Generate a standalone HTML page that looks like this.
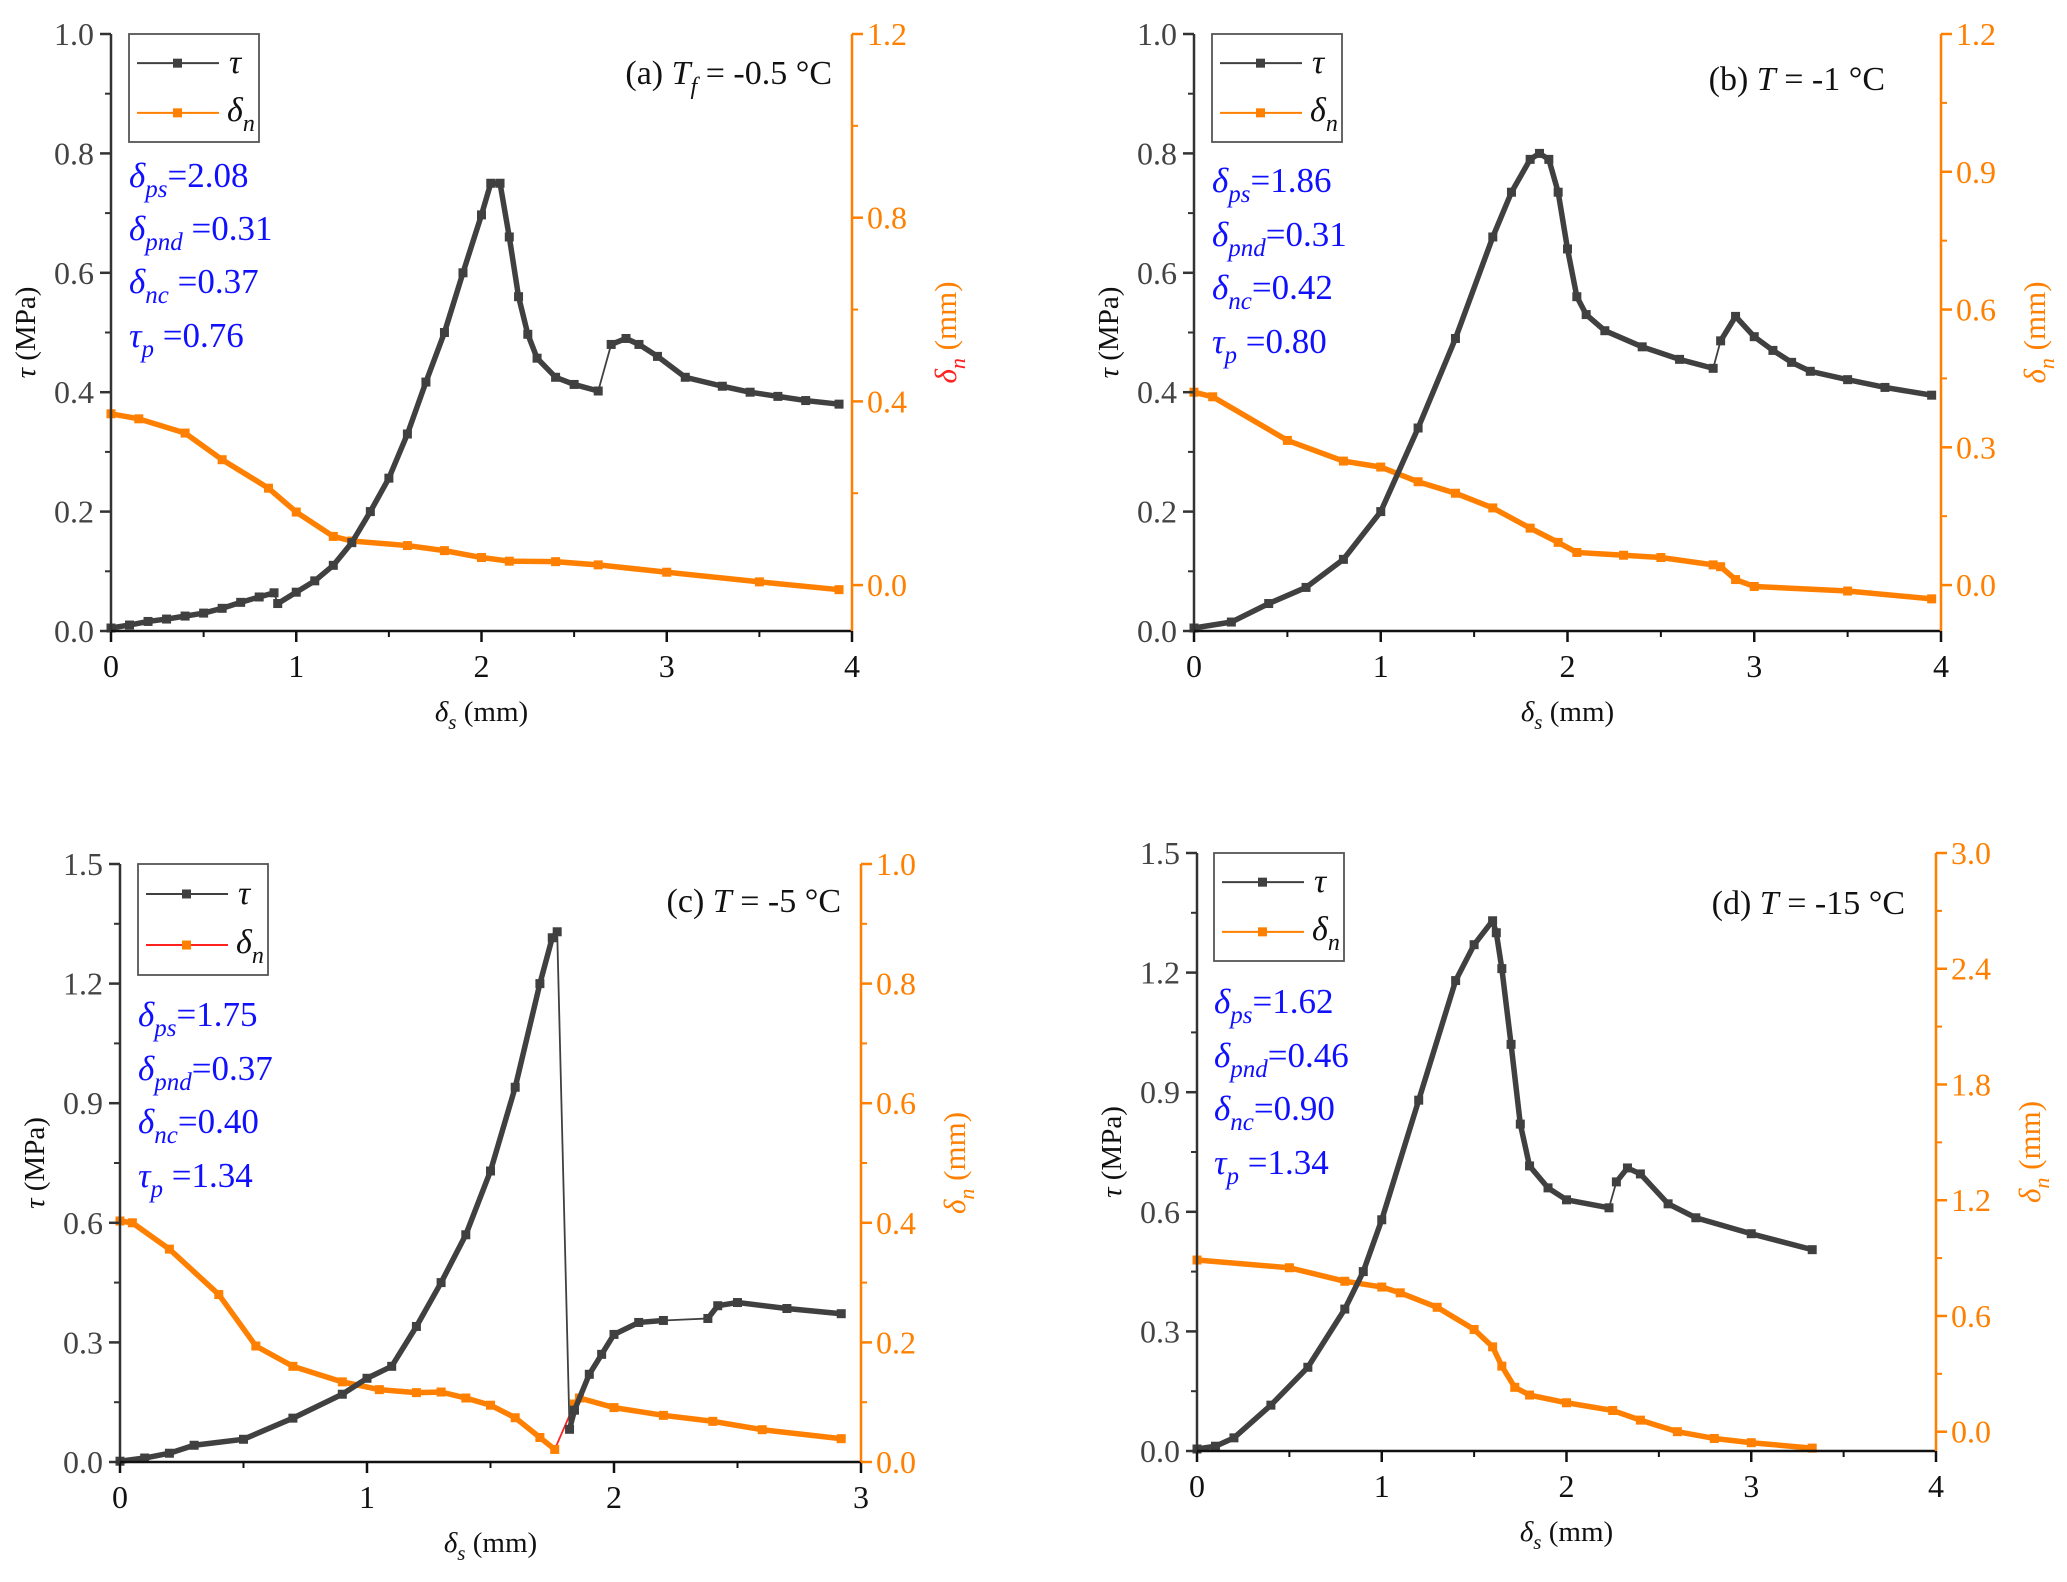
<!DOCTYPE html>
<html><head><meta charset="utf-8"><style>
html,body{margin:0;padding:0;background:#fff;}
svg{display:block;font-family:"Liberation Serif","DejaVu Serif",serif;}
</style></head><body>
<svg id="fig" width="2067" height="1582" viewBox="0 0 2067 1582" xmlns="http://www.w3.org/2000/svg"></svg>
<script>
// ---- Panel (a) data ----
const aTauX=[0,0.1,0.2,0.3,0.4,0.5,0.6,0.7,0.8,0.88,0.9,1.0,1.1,1.2,1.3,1.4,1.5,1.6,1.7,1.8,1.9,2.0,2.05,2.1,2.15,2.2,2.25,2.3,2.4,2.5,2.63,2.7,2.78,2.85,2.95,3.1,3.3,3.45,3.6,3.75,3.93];
const aTauY=[0.005,0.01,0.016,0.02,0.025,0.03,0.038,0.048,0.057,0.064,0.046,0.065,0.084,0.11,0.148,0.2,0.256,0.33,0.417,0.5,0.6,0.697,0.75,0.75,0.66,0.56,0.497,0.457,0.425,0.413,0.402,0.48,0.49,0.48,0.46,0.425,0.41,0.4,0.393,0.386,0.38];
const aTauThin=[9,30];
const aDnX=[0,0.15,0.4,0.6,0.85,1.0,1.2,1.3,1.6,1.8,2.0,2.15,2.4,2.63,3.0,3.5,3.93];
const aDnY=[0.373,0.362,0.331,0.273,0.211,0.159,0.106,0.096,0.086,0.075,0.06,0.052,0.051,0.044,0.028,0.007,-0.01];
const aDnThin=[];
// ---- Panel (b) data ----
const bTauX=[0,0.2,0.4,0.6,0.8,1.0,1.2,1.4,1.6,1.7,1.8,1.85,1.9,1.95,2.0,2.05,2.1,2.2,2.4,2.6,2.78,2.82,2.9,3.0,3.1,3.2,3.3,3.5,3.7,3.95];
const bTauY=[0.005,0.015,0.046,0.073,0.12,0.2,0.34,0.49,0.66,0.735,0.79,0.8,0.79,0.735,0.64,0.56,0.53,0.503,0.476,0.455,0.44,0.486,0.527,0.493,0.47,0.45,0.435,0.421,0.408,0.395];
const bTauThin=[20];
const bDnX=[0,0.1,0.5,0.8,1.0,1.2,1.4,1.6,1.8,1.95,2.05,2.3,2.5,2.78,2.82,2.9,3.0,3.5,3.95];
const bDnY=[0.42,0.41,0.315,0.27,0.257,0.225,0.2,0.168,0.124,0.093,0.071,0.065,0.06,0.044,0.04,0.012,-0.003,-0.013,-0.03];
const bDnThin=[];
// ---- Panel (c) data ----
const cTauX=[0,0.1,0.2,0.3,0.5,0.7,0.9,1.0,1.1,1.2,1.3,1.4,1.5,1.6,1.7,1.75,1.77,1.82,1.84,1.9,1.95,2.0,2.1,2.2,2.38,2.42,2.5,2.7,2.92];
const cTauY=[0.002,0.01,0.022,0.042,0.057,0.11,0.17,0.21,0.24,0.34,0.45,0.57,0.73,0.94,1.2,1.315,1.33,0.082,0.13,0.22,0.27,0.32,0.35,0.355,0.36,0.392,0.4,0.385,0.372];
const cTauThin=[16,23];
const cDnX=[0,0.05,0.2,0.4,0.55,0.7,0.9,1.05,1.2,1.3,1.4,1.5,1.6,1.7,1.76,1.84,1.86,2.0,2.2,2.4,2.6,2.92];
const cDnY=[0.403,0.4,0.356,0.28,0.194,0.16,0.134,0.121,0.116,0.117,0.107,0.095,0.074,0.041,0.021,0.097,0.107,0.091,0.078,0.068,0.054,0.039];
const cDnThin=[14];
// ---- Panel (d) data ----
const dTauX=[0,0.1,0.2,0.4,0.6,0.8,0.9,1.0,1.2,1.4,1.5,1.6,1.62,1.65,1.7,1.75,1.8,1.9,2.0,2.23,2.27,2.33,2.4,2.55,2.7,3.0,3.33];
const dTauY=[0.005,0.012,0.033,0.115,0.21,0.356,0.45,0.58,0.88,1.18,1.27,1.33,1.3,1.21,1.02,0.82,0.715,0.66,0.63,0.61,0.675,0.71,0.695,0.62,0.585,0.545,0.505];
const dTauThin=[19];
const dDnX=[0,0.5,0.8,1.0,1.1,1.3,1.5,1.6,1.65,1.72,1.8,2.0,2.25,2.4,2.6,2.8,3.0,3.33];
const dDnY=[0.89,0.85,0.78,0.75,0.72,0.645,0.53,0.44,0.34,0.23,0.19,0.15,0.11,0.06,0.0,-0.035,-0.057,-0.085];
const dDnThin=[];
// ---- Axis tick labels ----
const aLeftTicks=["0.0","0.2","0.4","0.6","0.8","1.0"];
const aRightTicks=["0.0","0.4","0.8","1.2"];
const bRightTicks=["0.0","0.3","0.6","0.9","1.2"];
const cLeftTicks=["0.0","0.3","0.6","0.9","1.2","1.5"];
const cRightTicks=["0.0","0.2","0.4","0.6","0.8","1.0"];
const dRightTicks=["0.0","0.6","1.2","1.8","2.4","3.0"];
const xTicks4=["0","1","2","3","4"];
const xTicks3=["0","1","2","3"];

const NS="http://www.w3.org/2000/svg";
const svg=document.getElementById('fig');
function mk(tag,attrs,parent){const e=document.createElementNS(NS,tag);for(const k in attrs)e.setAttribute(k,attrs[k]);(parent||svg).appendChild(e);return e;}
const DARK="#404040", ORANGE="#ff8000", BLUE="#1010ff";

function addRich(parent,x,y,size,parts,fill,anchor){
  const t=mk('text',{x:x,y:y,'font-size':size,fill:fill,'text-anchor':anchor||'start'},parent);
  parts.forEach(p=>{
    const s=mk('tspan',{},t);
    if(p.i) s.setAttribute('font-style','italic');
    if(p.sub){s.setAttribute('font-size',Math.round(size*0.72));s.setAttribute('dy',Math.round(size*0.28));}
    if(p.up){s.setAttribute('dy',-Math.round(size*0.28));}
    if(p.fill) s.setAttribute('fill',p.fill);
    s.textContent=p.t;
  });
  return t;
}

function panel(c){
  const g=mk('g',{});
  
  
  const xs=v=>c.L+(v/c.xMax)*(c.R-c.L);
  const yl=v=>c.B-((v-c.yMin)/(c.yMax-c.yMin))*(c.B-c.T);
  const yr=v=>c.B-((v-c.rMin)/(c.rMax-c.rMin))*(c.B-c.T);
  function series(X,Y,thin,ys,color,lineColor,name){
    const sg=mk('g',{},g);
    
    
    for(let i=0;i<X.length-1;i++){
      const isThin=thin.indexOf(i)>=0;
      const seg=mk('line',{x1:xs(X[i]),y1:ys(Y[i]),x2:xs(X[i+1]),y2:ys(Y[i+1]),stroke:isThin?lineColor:color,'stroke-width':isThin?1.8:5.5,'stroke-linecap':'square'},sg);
      
      
    }
    for(let i=0;i<X.length;i++){
      const m=mk('rect',{x:xs(X[i])-4.5,y:ys(Y[i])-4.5,width:9,height:9,fill:color},sg);
      
      
    }
  }
  series(c.dnX,c.dnY,c.dnThin,yr,ORANGE,c.dnLine,'dn-series-'+c.id);
  series(c.tX,c.tY,c.tThin,yl,DARK,DARK,'tau-series-'+c.id);
  const ax=mk('g',{},g);
  
  
  mk('line',{x1:c.L,y1:c.T,x2:c.L,y2:c.B+1,stroke:'#333','stroke-width':2.5},ax);
  mk('line',{x1:c.L,y1:c.B,x2:c.R,y2:c.B,stroke:'#111','stroke-width':2.5},ax);
  mk('line',{x1:c.R,y1:c.T,x2:c.R,y2:c.B,stroke:ORANGE,'stroke-width':2.5},ax);
  c.xLabels.forEach((lab,i)=>{
    const x=xs(i);
    mk('line',{x1:x,y1:c.B,x2:x,y2:c.B+11,stroke:'#111','stroke-width':2.5},ax);
    if(i<c.xLabels.length-1){const xm=xs(i+0.5);mk('line',{x1:xm,y1:c.B,x2:xm,y2:c.B+6,stroke:'#111','stroke-width':2},ax);}
    const t=mk('text',{x:x,y:c.B+46,'font-size':32,'text-anchor':'middle',fill:'#111'},ax);
    
    
    t.textContent=lab;
  });
  c.leftLabels.forEach((lab,i)=>{
    const v=parseFloat(lab), y=yl(v);
    mk('line',{x1:c.L-11,y1:y,x2:c.L,y2:y,stroke:'#333','stroke-width':2.5},ax);
    if(i<c.leftLabels.length-1){const ym=yl(v+c.yStep/2);mk('line',{x1:c.L-6,y1:ym,x2:c.L,y2:ym,stroke:'#333','stroke-width':2},ax);}
    const t=mk('text',{x:c.L-17,y:y+11,'font-size':32,'text-anchor':'end',fill:'#444'},ax);
    
    
    t.textContent=lab;
  });
  c.rightLabels.forEach((lab,i)=>{
    const v=parseFloat(lab), y=yr(v);
    mk('line',{x1:c.R,y1:y,x2:c.R+11,y2:y,stroke:ORANGE,'stroke-width':2.5},ax);
    if(i<c.rightLabels.length-1){const ym=yr(v+c.rStep/2);mk('line',{x1:c.R,y1:ym,x2:c.R+6,y2:ym,stroke:ORANGE,'stroke-width':2},ax);}
    const t=mk('text',{x:c.R+15,y:y+11,'font-size':32,'text-anchor':'start',fill:ORANGE},ax);
    
    
    t.textContent=lab;
  });
  const cx=(c.L+c.R)/2, cy=(c.T+c.B)/2;
  const xt=addRich(g,cx,c.B+90,29,[{t:'δ',i:1},{t:'s',i:1,sub:1},{t:' (mm)',up:1}],'#111','middle');
  
  
  const lt=addRich(g,0,0,29,[{t:'τ',i:1},{t:' (MPa)'}],'#111','middle');
  lt.setAttribute('transform','translate('+(c.L-76)+','+cy+') rotate(-90)');
  
  
  const rt=addRich(g,0,0,31,[{t:'δ',i:1,fill:c.dnTitleColor},{t:'n',i:1,sub:1,fill:c.dnTitleColor},{t:' (mm)',up:1}],ORANGE,'middle');
  rt.setAttribute('transform','translate('+(c.R+104)+','+cy+') rotate(-90)');
  
  
  const lg=mk('g',{},g);
  
  
  mk('rect',{x:c.lx,y:c.T,width:130,height:c.lh,fill:'none',stroke:'#555','stroke-width':1.8},lg);
  const y1=c.T+c.lh*0.27, y2=c.T+c.lh*0.73;
  mk('line',{x1:c.lx+8,y1:y1,x2:c.lx+90,y2:y1,stroke:DARK,'stroke-width':2},lg);
  mk('rect',{x:c.lx+44,y:y1-4.5,width:9,height:9,fill:DARK},lg);
  mk('line',{x1:c.lx+8,y1:y2,x2:c.lx+90,y2:y2,stroke:c.dnLine,'stroke-width':2},lg);
  mk('rect',{x:c.lx+44,y:y2-4.5,width:9,height:9,fill:ORANGE},lg);
  const e1=addRich(lg,c.lx+100,y1+10,34,[{t:'τ',i:1}],'#111');
  
  
  const e2=addRich(lg,c.lx+98,y2+8,34,[{t:'δ',i:1},{t:'n',i:1,sub:1}],'#111');
  
  
  const tt=addRich(g,c.titleX,c.titleY,34,c.title,'#111','end');
  
  
  c.ann.forEach((a,i)=>{
    const t=addRich(g,c.lx,c.annY[i],35,a,BLUE);
    
    
  });
}

panel({id:'a',L:111,R:852,T:34,B:631,xMax:4,yMin:0,yMax:1.0,yStep:0.2,rMin:-0.1,rMax:1.2,rStep:0.4,
  tX:aTauX,tY:aTauY,tThin:aTauThin,dnX:aDnX,dnY:aDnY,dnThin:aDnThin,dnLine:ORANGE,dnTitleColor:'#ff2020',
  xLabels:xTicks4,leftLabels:aLeftTicks,rightLabels:aRightTicks,lx:129,lh:108,
  title:[{t:'(a) '},{t:'T',i:1},{t:'f',i:1,sub:1},{t:' = -0.5 °C',up:1}],titleX:832,titleY:84,
  ann:[[{t:'δ',i:1},{t:'ps',i:1,sub:1},{t:'=2.08',up:1}],[{t:'δ',i:1},{t:'pnd',i:1,sub:1},{t:' =0.31',up:1}],[{t:'δ',i:1},{t:'nc',i:1,sub:1},{t:' =0.37',up:1}],[{t:'τ',i:1},{t:'p',i:1,sub:1},{t:' =0.76',up:1}]],
  annY:[187,240,293,347]});
panel({id:'b',L:1194,R:1941,T:34,B:631,xMax:4,yMin:0,yMax:1.0,yStep:0.2,rMin:-0.1,rMax:1.2,rStep:0.3,
  tX:bTauX,tY:bTauY,tThin:bTauThin,dnX:bDnX,dnY:bDnY,dnThin:bDnThin,dnLine:ORANGE,dnTitleColor:ORANGE,
  xLabels:xTicks4,leftLabels:aLeftTicks,rightLabels:bRightTicks,lx:1212,lh:108,
  title:[{t:'(b) '},{t:'T',i:1},{t:'  = -1 °C'}],titleX:1885,titleY:90,
  ann:[[{t:'δ',i:1},{t:'ps',i:1,sub:1},{t:'=1.86',up:1}],[{t:'δ',i:1},{t:'pnd',i:1,sub:1},{t:'=0.31',up:1}],[{t:'δ',i:1},{t:'nc',i:1,sub:1},{t:'=0.42',up:1}],[{t:'τ',i:1},{t:'p',i:1,sub:1},{t:' =0.80',up:1}]],
  annY:[192,246,299,353]});
panel({id:'c',L:120,R:861,T:864,B:1462,xMax:3,yMin:0,yMax:1.5,yStep:0.3,rMin:0,rMax:1.0,rStep:0.2,
  tX:cTauX,tY:cTauY,tThin:cTauThin,dnX:cDnX,dnY:cDnY,dnThin:cDnThin,dnLine:'#ff2020',dnTitleColor:ORANGE,
  xLabels:xTicks3,leftLabels:cLeftTicks,rightLabels:cRightTicks,lx:138,lh:111,
  title:[{t:'(c) '},{t:'T',i:1},{t:'  = -5 °C'}],titleX:841,titleY:912,
  ann:[[{t:'δ',i:1},{t:'ps',i:1,sub:1},{t:'=1.75',up:1}],[{t:'δ',i:1},{t:'pnd',i:1,sub:1},{t:'=0.37',up:1}],[{t:'δ',i:1},{t:'nc',i:1,sub:1},{t:'=0.40',up:1}],[{t:'τ',i:1},{t:'p',i:1,sub:1},{t:' =1.34',up:1}]],
  annY:[1026,1080,1133,1187]});
panel({id:'d',L:1197,R:1936,T:853,B:1451,xMax:4,yMin:0,yMax:1.5,yStep:0.3,rMin:-0.1,rMax:3.0,rStep:0.6,
  tX:dTauX,tY:dTauY,tThin:dTauThin,dnX:dDnX,dnY:dDnY,dnThin:dDnThin,dnLine:ORANGE,dnTitleColor:ORANGE,
  xLabels:xTicks4,leftLabels:cLeftTicks,rightLabels:dRightTicks,lx:1214,lh:108,
  title:[{t:'(d) '},{t:'T',i:1},{t:'  = -15 °C'}],titleX:1905,titleY:914,
  ann:[[{t:'δ',i:1},{t:'ps',i:1,sub:1},{t:'=1.62',up:1}],[{t:'δ',i:1},{t:'pnd',i:1,sub:1},{t:'=0.46',up:1}],[{t:'δ',i:1},{t:'nc',i:1,sub:1},{t:'=0.90',up:1}],[{t:'τ',i:1},{t:'p',i:1,sub:1},{t:' =1.34',up:1}]],
  annY:[1013,1067,1120,1174]});
</script>
</body></html>
